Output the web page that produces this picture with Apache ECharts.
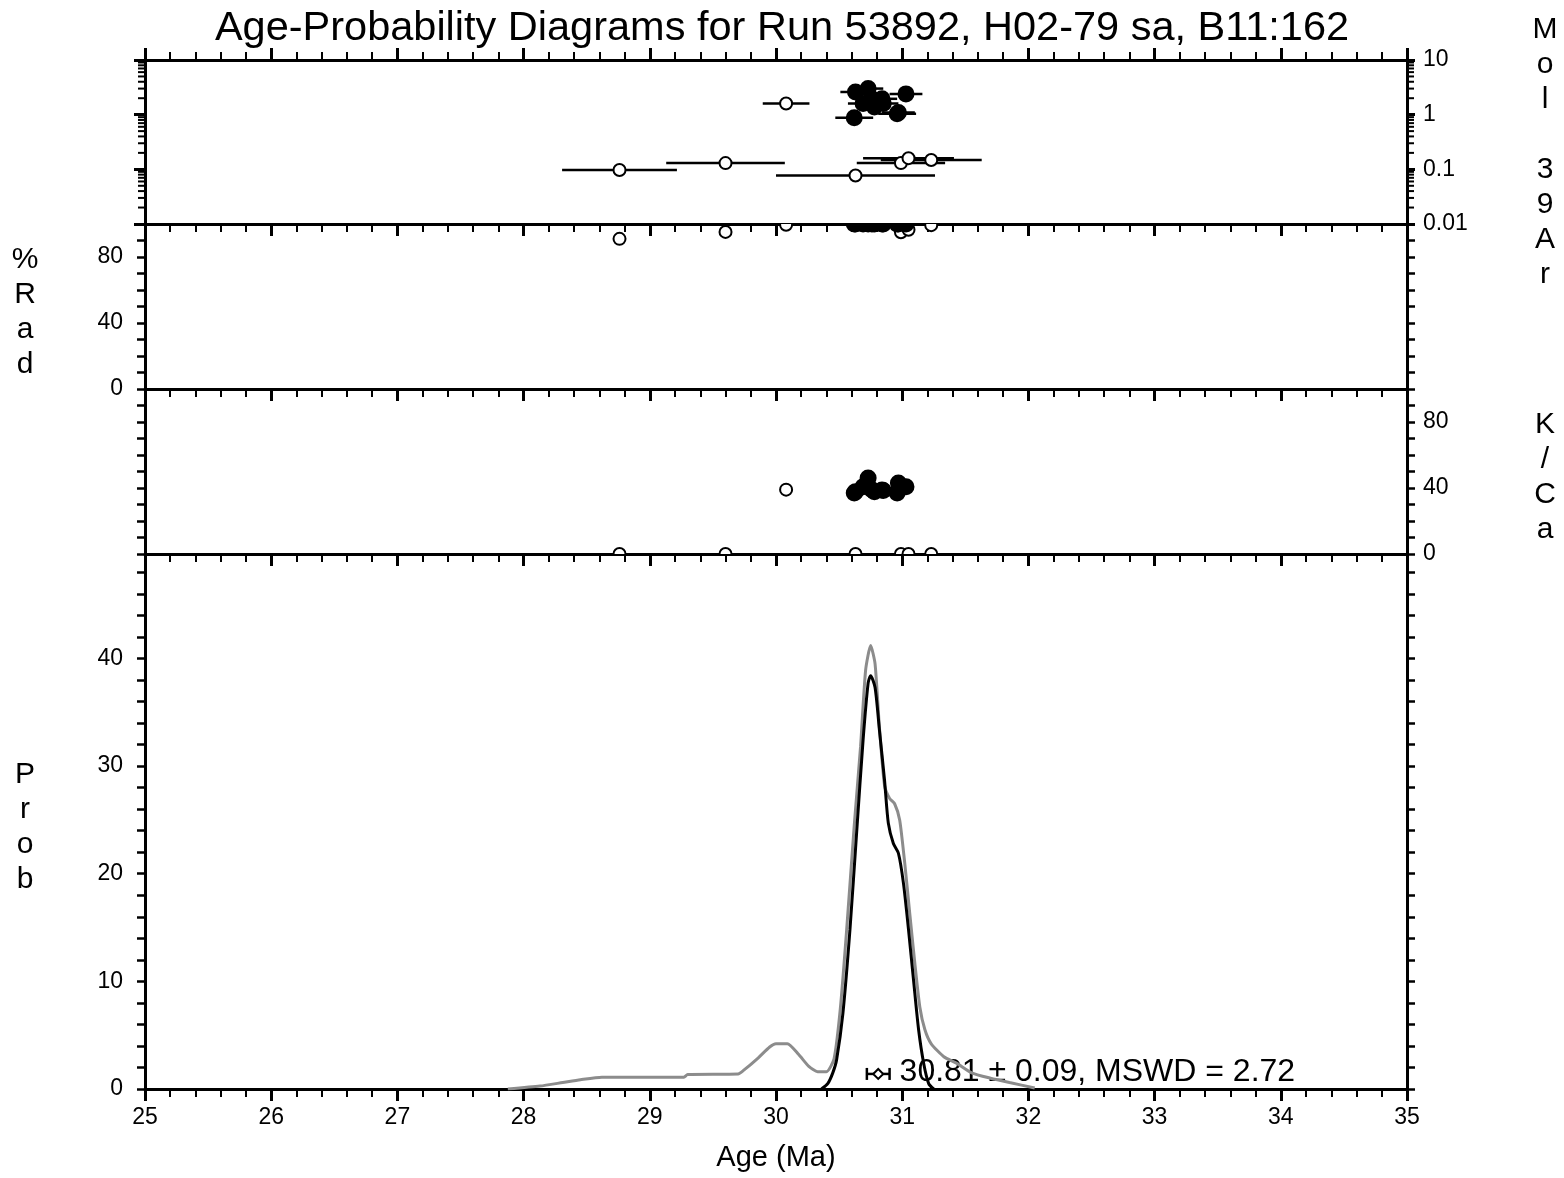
<!DOCTYPE html>
<html><head><meta charset="utf-8">
<script src="https://cdn.jsdelivr.net/npm/echarts@6/dist/echarts.min.js"></script>
<style>html,body{margin:0;padding:0;background:#fff}#c{width:1564px;height:1178px}</style>
</head><body><div id="c"></div>
<script>
// ---------------- data ----------------
const titleText = 'Age-Probability Diagrams for Run 53892, H02-79 sa, B11:162';
// individual analyses (open = excluded, filled = included)
const ages     = [28.76, 29.60, 30.08, 30.63, 30.99, 31.05, 31.23, 30.63, 30.73, 31.03, 30.62, 30.96, 30.69, 30.76, 30.84, 30.78, 30.85, 30.97];
const ageErrs  = [0.455, 0.47, 0.185, 0.63, 0.35, 0.36, 0.40, 0.12, 0.12, 0.13, 0.15, 0.15, 0.12, 0.12, 0.12, 0.12, 0.12, 0.13];
const mol39    = [0.097, 0.13, 1.6, 0.077, 0.13, 0.16, 0.148, 2.6, 3.0, 2.4, 0.88, 1.04, 1.6, 1.95, 1.95, 1.38, 1.6, 1.1];
const radPct   = [91, 95.2, 99.5, 100, 95, 96.5, 99.3, 100, 100, 100, 100, 100, 100, 100, 100, 100, 100, 100];
const kCa      = [0, 0, 39, 0, 0, 0, 0, 37.8, 46, 40.8, 37, 37, 40.8, 39, 38.8, 37.8, 38.5, 43];
const included = [0, 0, 0, 0, 0, 0, 0, 1, 1, 1, 1, 1, 1, 1, 1, 1, 1, 1];
// probability curves [age, prob]
const probAll = [[27.875,0],[28.13,0.27],[28.31,0.6],[28.45,0.86],[28.62,1.1],[29.27,1.1],[29.30,1.35],[29.70,1.4],[29.74,1.7],[29.86,2.9],[29.95,3.9],[30.0,4.2],[30.09,4.2],[30.18,3.2],[30.26,2.1],[30.33,1.6],[30.40,1.6],[30.46,2.8],[30.51,7.5],[30.56,14.8],[30.62,24.5],[30.67,31.8],[30.71,38.9],[30.75,41.2],[30.785,39.5],[30.82,33.5],[30.86,28.2],[30.9,27],[30.94,26.5],[30.98,25],[31.02,21],[31.06,16.3],[31.10,11.7],[31.14,7.6],[31.18,5.5],[31.23,4.2],[31.33,3.0],[31.43,2.4],[31.55,1.5],[31.7,1.0],[31.85,0.6],[32.05,0.1]];
const probIncl = [[30.36,0],[30.41,0.5],[30.45,1.5],[30.48,2.7],[30.53,7],[30.586,14.8],[30.64,24],[30.69,32.4],[30.73,37.7],[30.75,38.4],[30.785,37.3],[30.82,33.3],[30.86,28.7],[30.89,24.7],[30.93,22.8],[30.97,21.9],[31.01,19.1],[31.05,14.8],[31.09,10.1],[31.13,5.5],[31.17,2.4],[31.21,0.5],[31.25,0]];
// weighted mean
const meanAge = 30.81, meanErr = 0.09, mswd = 2.72, meanBarY = 1.4;
// axes
const ageMin = 25, ageMax = 35;
const molMin = 0.01, molMax = 10;
const pctMin = 0, pctMax = 100;
const probMax = 49.7;
const pctLabels = [0, 40, 80];
const probLabels = [0, 10, 20, 30, 40];
const logMinorTicks = [];
for (let k = -2; k <= 0; k++) for (let m = 2; m <= 9; m++) logMinorTicks.push(+(m * Math.pow(10, k)).toPrecision(3));

// ---------------- chart ----------------
const FONT = '"Liberation Sans", Arial, Helvetica, sans-serif';
const BLACK = '#000';
const TICKFS = 23;
const grids = [
  {left: 145, right: 157, top: 60, height: 164},
  {left: 145, right: 157, top: 224, height: 165},
  {left: 145, right: 157, top: 389, height: 165},
  {left: 145, right: 157, top: 554, height: 535}
];
function xAx(gi, pos, inside, showLabel) {
  const a = {
    type: 'value', gridIndex: gi, position: pos, min: ageMin, max: ageMax, interval: 1,
    axisLine: {show: true, onZero: false, lineStyle: {color: BLACK, width: 3}},
    axisTick: {show: true, inside: inside, length: 12, lineStyle: {color: BLACK, width: 3}},
    minorTick: {show: true, splitNumber: 5, length: 8, lineStyle: {color: BLACK, width: 2}},
    axisLabel: {show: showLabel, color: BLACK, fontFamily: FONT, fontSize: TICKFS, margin: 17},
    splitLine: {show: false}, minorSplitLine: {show: false}
  };
  if (showLabel) {
    a.name = 'Age (Ma)'; a.nameLocation = 'middle'; a.nameGap = 54;
    a.nameTextStyle = {color: BLACK, fontFamily: FONT, fontSize: 29};
  }
  return a;
}
function yAx(gi, pos, cfg) {
  return Object.assign({
    type: 'value', gridIndex: gi, position: pos,
    axisLine: {show: true, onZero: false, lineStyle: {color: BLACK, width: 3}},
    axisTick: {show: true, inside: false, length: 8, lineStyle: {color: BLACK, width: 2.5}},
    splitLine: {show: false}, minorSplitLine: {show: false}
  }, cfg);
}
const lblStyle = (show, fmt, margin) => ({show, color: BLACK, fontFamily: FONT, fontSize: TICKFS, margin: margin, formatter: fmt, showMinLabel: true, showMaxLabel: true});
const pctFmt = v => pctLabels.some(p => Math.abs(p - v) < 1e-6) ? String(v) : '';
const probFmt = v => probLabels.some(p => Math.abs(p - v) < 1e-6) ? String(v) : '';
const logFmt = v => v >= 1 ? String(Math.round(v)) : String(+v.toPrecision(1));

const yAxes = [
  yAx(0, 'left',  {type: 'log', logBase: 10, min: molMin, max: molMax, axisTick: {show: true, length: 11, lineStyle: {color: BLACK, width: 3}}, axisLabel: {show: false}}),
  yAx(0, 'right', {type: 'log', logBase: 10, min: molMin, max: molMax, axisTick: {show: true, length: 8, lineStyle: {color: BLACK, width: 3}}, axisLabel: lblStyle(true, logFmt, 16)}),
  yAx(1, 'left',  {min: pctMin, max: pctMax, interval: 10, axisLabel: lblStyle(true, pctFmt, 22)}),
  yAx(1, 'right', {min: pctMin, max: pctMax, interval: 10, axisLabel: {show: false}}),
  yAx(2, 'left',  {min: pctMin, max: pctMax, interval: 10, axisLabel: {show: false}}),
  yAx(2, 'right', {min: pctMin, max: pctMax, interval: 10, axisLabel: lblStyle(true, pctFmt, 16)}),
  yAx(3, 'left',  {min: 0, max: probMax, interval: 2, axisLabel: lblStyle(true, probFmt, 22)}),
  yAx(3, 'right', {min: 0, max: probMax, interval: 2, axisLabel: {show: false}})
];
const xAxes = [
  xAx(0, 'top', false, false),
  xAx(1, 'top', true, false),
  xAx(2, 'top', true, false),
  xAx(3, 'top', true, false),
  xAx(3, 'bottom', false, true)
];

function pointSeries(xi, yi, vals, withBars) {
  return {
    type: 'custom', xAxisIndex: xi, yAxisIndex: yi, clip: true, silent: true, animation: false,
    data: ages.map((a, i) => [a, vals[i], ageErrs[i], included[i]]),
    renderItem(params, api) {
      const a = api.value(0), v = api.value(1), e = api.value(2), inc = api.value(3);
      const c = api.coord([a, v]);
      const ch = [];
      if (withBars) {
        const l = api.coord([a - e, v]), r = api.coord([a + e, v]);
        ch.push({type: 'line', z2: 1, shape: {x1: l[0], y1: c[1], x2: r[0], y2: c[1]}, style: {stroke: BLACK, lineWidth: 2.5}});
      }
      ch.push({type: 'circle', z2: inc ? 20 : 10, shape: {cx: c[0], cy: c[1], r: inc ? 7.5 : 6}, style: {fill: inc ? BLACK : '#fff', stroke: BLACK, lineWidth: 2}});
      return {type: 'group', children: ch};
    }
  };
}

const series = [
  // log minor ticks on both sides of the Mol 39Ar panel
  {
    type: 'custom', xAxisIndex: 0, yAxisIndex: 0, clip: false, silent: true, animation: false,
    data: logMinorTicks.map(v => [ageMin, v]),
    renderItem(params, api) {
      const v = api.value(1);
      const pL = api.coord([ageMin, v]), pR = api.coord([ageMax, v]);
      return {type: 'group', children: [
        {type: 'line', shape: {x1: pL[0] - 7, y1: pL[1], x2: pL[0], y2: pL[1]}, style: {stroke: BLACK, lineWidth: 2}},
        {type: 'line', shape: {x1: pR[0], y1: pR[1], x2: pR[0] + 7, y2: pR[1]}, style: {stroke: BLACK, lineWidth: 2}}
      ]};
    }
  },
  pointSeries(0, 0, mol39, true),
  pointSeries(1, 2, radPct, false),
  pointSeries(2, 4, kCa, false),
  {type: 'line', xAxisIndex: 3, yAxisIndex: 6, data: probAll, showSymbol: false, smooth: 0.2, clip: true, silent: true,
   lineStyle: {color: '#8c8c8c', width: 3}, z: 3},
  {type: 'line', xAxisIndex: 3, yAxisIndex: 6, data: probIncl, showSymbol: false, smooth: 0.25, clip: true, silent: true,
   lineStyle: {color: BLACK, width: 3}, z: 4},
  {
    type: 'custom', xAxisIndex: 3, yAxisIndex: 6, clip: false, silent: true, animation: false, z: 2,
    data: [[meanAge, meanBarY, meanErr, mswd]],
    renderItem(params, api) {
      const m = api.value(0), y = api.value(1), e = api.value(2), ms = api.value(3);
      const c = api.coord([m, y]), l = api.coord([m - e, y]), r = api.coord([m + e, y]);
      const d = 5;
      return {type: 'group', children: [
        {type: 'line', shape: {x1: l[0], y1: c[1], x2: r[0], y2: c[1]}, style: {stroke: BLACK, lineWidth: 2.5}},
        {type: 'line', shape: {x1: l[0], y1: c[1] - 6, x2: l[0], y2: c[1] + 6}, style: {stroke: BLACK, lineWidth: 2.5}},
        {type: 'line', shape: {x1: r[0], y1: c[1] - 6, x2: r[0], y2: c[1] + 6}, style: {stroke: BLACK, lineWidth: 2.5}},
        {type: 'polygon', shape: {points: [[c[0] - d, c[1]], [c[0], c[1] - d], [c[0] + d, c[1]], [c[0], c[1] + d]]}, style: {fill: '#fff', stroke: BLACK, lineWidth: 2}},
        {type: 'text', style: {text: m.toFixed(2) + ' \u00b1 ' + e.toFixed(2) + ', MSWD = ' + ms.toFixed(2),
          x: r[0] + 10, y: c[1] - 2, fill: BLACK, font: '32px ' + FONT,
          textAlign: 'left', textVerticalAlign: 'middle', align: 'left', verticalAlign: 'middle'}}
      ]};
    }
  }
];

const sideText = (txt, x, yc) => ({type: 'text', x: x, y: yc, silent: true,
  style: {text: txt.split('').join('\n'), fill: BLACK, font: '30px ' + FONT, lineHeight: 35,
    textAlign: 'center', textVerticalAlign: 'middle', align: 'center', verticalAlign: 'middle'}});

const option = {
  animation: false,
  backgroundColor: '#fff',
  title: {text: titleText, left: 'center', top: 3, textStyle: {color: BLACK, fontFamily: FONT, fontSize: 41.5, fontWeight: 'normal'}},
  grid: grids,
  xAxis: xAxes,
  yAxis: yAxes,
  series: series,
  graphic: [
    sideText('Mol 39Ar', 1545, 152),
    sideText('%Rad', 25, 312),
    sideText('K/Ca', 1545, 477),
    sideText('Prob', 25, 827)
  ]
};
const chart = echarts.init(document.getElementById('c'), null, {renderer: 'canvas'});
chart.setOption(option);
</script>
</body></html>
